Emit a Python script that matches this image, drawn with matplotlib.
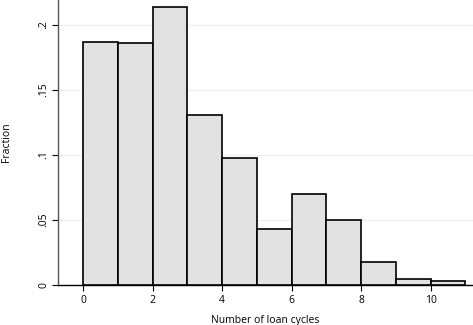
import matplotlib
matplotlib.use("Agg")
import matplotlib.pyplot as plt
import numpy as np

bin_edges = [0, 1, 2, 3, 4, 5, 6, 7, 8, 9, 10, 11]
fractions = [0.187, 0.1856, 0.2133, 0.1308, 0.0974, 0.0428, 0.070, 0.0502, 0.0179, 0.0043, 0.0033]
xticks = [0, 2, 4, 6, 8, 10]
yticks = [0, 0.05, 0.1, 0.15, 0.2]
ytick_labels = ["0", ".05", ".1", ".15", ".2"]

plt.rcParams['font.family'] = ['Open Sans', 'DejaVu Sans']

fig = plt.figure(figsize=(4.73, 3.25), dpi=100)
ax = fig.add_axes([58/473, 40/325, (473-58)/473, 285/325])

ax.bar(bin_edges[:-1], fractions, width=np.diff(bin_edges), align='edge',
       color='#e2e2e2', edgecolor='black', linewidth=1.2, zorder=3)

ax.set_xlim(-0.72, 11.22)
ax.set_ylim(0, 0.219)
ax.set_yticks(yticks)
ax.set_yticklabels(ytick_labels, rotation=90, va='center')
ax.set_xticks(xticks)
ax.yaxis.grid(True, color='#eef0f0', linewidth=1.0, zorder=0)
ax.set_axisbelow(True)

for s in ['top', 'right']:
    ax.spines[s].set_visible(False)
ax.spines['left'].set_color('#555555')
ax.spines['left'].set_linewidth(1.0)
ax.spines['bottom'].set_color('black')
ax.spines['bottom'].set_linewidth(1.0)

ax.tick_params(axis='both', direction='out', length=4, width=0.8, labelsize=7.5, colors='black')
ax.tick_params(axis='y', pad=2)
ax.set_xlabel('Number of loan cycles', fontsize=7.5, labelpad=6)
ax.set_ylabel('Fraction', fontsize=7.5)
ax.yaxis.set_label_coords(-0.112, 0.5)

fig.savefig('out.png', dpi=100)
